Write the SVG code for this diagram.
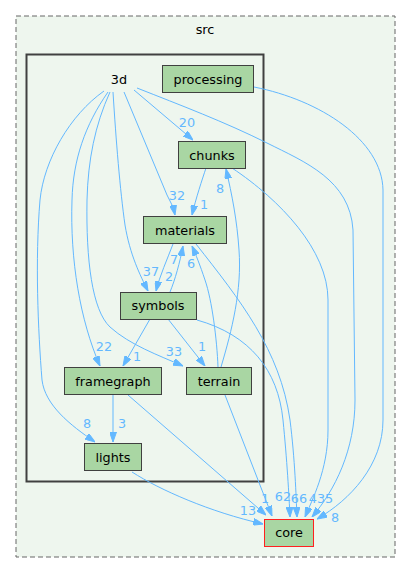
<svg xmlns="http://www.w3.org/2000/svg" width="411" height="573" viewBox="0 0 411 573">
<style>
text{font-family:"DejaVu Sans","Liberation Sans",sans-serif;font-size:12.8px;text-anchor:middle}
.node rect{fill:#a9d6a3;stroke:#404040;stroke-width:1}
.edge path{fill:none;stroke:#63b8ff;stroke-width:1;marker-end:url(#ah)}
.lbl{fill:#63b8ff}
</style>
<defs>
<marker id="ah" viewBox="0 0 10 7" refX="10" refY="3.5" markerWidth="10" markerHeight="7" markerUnits="userSpaceOnUse" orient="auto">
<path d="M0,0 L10,3.5 L0,7 z" fill="#63b8ff" stroke="#63b8ff" stroke-width="1"/>
</marker>
</defs>
<rect width="411" height="573" fill="#ffffff"/>
<g id="cluster_src">
<rect x="16" y="16" width="379" height="541" fill="#eef6ee" stroke="#666666" stroke-width="1" stroke-dasharray="5,3"/>
<text x="205" y="34">src</text>
</g>
<g id="cluster_3d">
<rect x="26.5" y="54.5" width="237" height="427" fill="#eef6ee" stroke="#404040" stroke-width="2"/>
<text x="119" y="83.5">3d</text>
</g>
<g id="edges" class="edge">
<path d="M134,90 L193,140"/>
<path d="M124,92 L167,195 Q173,205 175,215"/>
<path d="M113,92 C116,140 120,190 125,225 C130,255 140,275 148,291"/>
<path d="M108,92 C85,125 73,160 72,200 C70,260 80,320 100,366"/>
<path d="M110,92 C95,125 88,160 87,200 C86,260 92,310 110,327 C130,345 158,355 183,366"/>
<path d="M104,91 C70,115 44,160 40,200 C35,260 38,330 42,380 C45,405 70,425 95,442"/>
<path d="M137,88 C180,105 225,122 267,143 C305,162 350,180 353,230 L355,400 C355,450 335,490 312,517"/>
<path d="M254,87 C320,100 382,140 383,190 L383,420 C383,465 350,500 317,519"/>
<path d="M232,168 C280,200 328,250 328,300 L328,430 C328,470 312,500 305,517"/>
<path d="M206,168 C202,180 196,198 192,215"/>
<path d="M196,244 C240,300 280,350 290,420 C295,460 296,495 297,517"/>
<path d="M197,320 C250,335 278,370 283,420 C287,460 289,495 290,517"/>
<path d="M173,244 C167,260 160,275 156,291"/>
<path d="M170,292 C175,280 180,262 183,246"/>
<path d="M150,319 L123,366"/>
<path d="M168,319 L205,366"/>
<path d="M221,367 C232,330 242,290 239,250 C237,220 232,195 226,169"/>
<path d="M218,367 C217,340 212,300 205,280 C200,265 196,255 192,246"/>
<path d="M225,395 L272,516"/>
<path d="M128,395 L266,515"/>
<path d="M113,395 L113,442"/>
<path d="M132,472 C160,490 210,512 263,524"/>
</g>
<g id="edge_labels" class="lbl">
<text x="187" y="127">20</text>
<text x="177" y="200">32</text>
<text x="204" y="209">1</text>
<text x="220" y="193">8</text>
<text x="174" y="264">7</text>
<text x="191" y="268">6</text>
<text x="151" y="276">37</text>
<text x="169" y="281">2</text>
<text x="104" y="351">22</text>
<text x="137" y="361">1</text>
<text x="174" y="356">33</text>
<text x="202" y="351">1</text>
<text x="87" y="428">8</text>
<text x="122" y="428">3</text>
<text x="248" y="515">13</text>
<text x="265" y="503">1</text>
<text x="283" y="501">62</text>
<text x="299" y="503">66</text>
<text x="321" y="503">435</text>
<text x="335" y="522">8</text>
</g>
<g id="node_processing" class="node">
<rect x="162.5" y="65.5" width="91" height="27"/>
<text x="208" y="83.5">processing</text>
</g>
<g id="node_chunks" class="node">
<rect x="178.5" y="141.5" width="67" height="27"/>
<text x="212" y="159.5">chunks</text>
</g>
<g id="node_materials" class="node">
<rect x="143.5" y="216.5" width="83" height="27"/>
<text x="185" y="234.5">materials</text>
</g>
<g id="node_symbols" class="node">
<rect x="120.5" y="292.5" width="76" height="27"/>
<text x="158" y="310">symbols</text>
</g>
<g id="node_framegraph" class="node">
<rect x="64.5" y="367.5" width="97" height="27"/>
<text x="113" y="385.5">framegraph</text>
</g>
<g id="node_terrain" class="node">
<rect x="186.5" y="367.5" width="65" height="27"/>
<text x="219" y="385.5">terrain</text>
</g>
<g id="node_lights" class="node">
<rect x="84.5" y="443.5" width="57" height="27"/>
<text x="113" y="461.5">lights</text>
</g>
<g id="node_core" class="node">
<rect x="264.5" y="519.5" width="49" height="27" style="stroke:#ff2020"/>
<text x="289" y="537">core</text>
</g>
</svg>
